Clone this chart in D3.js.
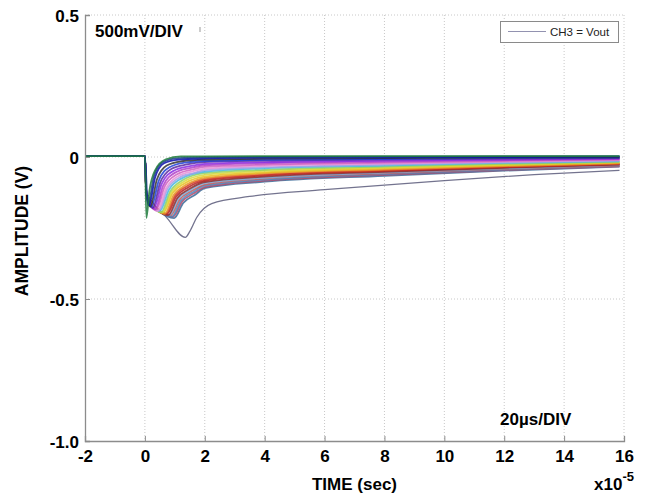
<!DOCTYPE html>
<html>
<head>
<meta charset="utf-8">
<script src="https://cdn.jsdelivr.net/npm/d3@7"></script>
<style>
  html, body { margin: 0; padding: 0; background: #fff; }
  svg { display: block; font-family: "Liberation Sans", Arial, sans-serif; }
</style>
</head>
<body>
<svg id="chart" width="652" height="497"></svg>
<script>
// ---- data ----
const xTicks = [-2, 0, 2, 4, 6, 8, 10, 12, 14, 16];
const xTickLabels = ["-2", "0", "2", "4", "6", "8", "10", "12", "14", "16"];
const yTicks = [0.5, 0, -0.5, -1.0];
const yTickLabels = ["0.5", "0", "-0.5", "-1.0"];
const xLabel = "TIME (sec)";
const yLabel = "AMPLITUDE (V)";
const vScaleText = "500mV/DIV";
const tScaleText = "20\u00b5s/DIV";
const legendText = "CH3 = Vout";

// trace colours, from top of the bundle to the largest excursion
const traceColors = [
  "#1e7b3c", "#1a3a8a", "#0a0ab0", "#333333", "#2040d8", "#5a2aa0",
  "#8a2be2", "#b040c8", "#d060c0", "#e890d8", "#a0a0e8", "#48b8e0",
  "#90d060", "#d8d838", "#e8c020", "#e89028", "#d03a2a", "#b02020",
  "#8a2a2a", "#7aaad8", "#c05a5a", "#4a86c0", "#b04868", "#3a6a98",
  "#5a5a7a"
];
const legendColor = "#9292b0";

// each trace: [time (x1e-5 s), amplitude (V)] points
const traces = [
  [[-2,.003],[0,.003],[0.05,-0.215],[0.15,-0.12],[0.35,-0.045],[0.7,-0.008],[1.2,0.002],[4,0.003],[8,0.003],[12,0.003],[15.85,0.003]],
  [[-2,.003],[0,.003],[0.10,-0.17],[0.3,-0.069],[0.6,-0.018],[1.1,-0.004],[2,-0.001],[4,0.000],[8,0.001],[12,0.002],[15.85,0.002]],
  [[-2,.003],[0,.003],[0.05,-0.13],[0.14,-0.17],[0.34,-0.072],[0.64,-0.022],[1.14,-0.009],[2,-0.005],[4,-0.002],[8,-0.001],[12,0.000],[15.85,0.001]],
  [[-2,.003],[0,.003],[0.05,-0.13],[0.18,-0.175],[0.40,-0.079],[0.73,-0.030],[1.23,-0.015],[2,-0.009],[4,-0.006],[8,-0.004],[12,-0.002],[15.85,-0.001]],
  [[-2,.003],[0,.003],[0.05,-0.13],[0.22,-0.175],[0.46,-0.084],[0.82,-0.036],[1.32,-0.020],[2,-0.014],[4,-0.010],[8,-0.007],[12,-0.004],[15.85,-0.002]],
  [[-2,.003],[0,.003],[0.05,-0.13],[0.26,-0.18],[0.51,-0.090],[0.88,-0.042],[1.41,-0.026],[2,-0.018],[4,-0.013],[8,-0.009],[12,-0.006],[15.85,-0.004]],
  [[-2,.003],[0,.003],[0.05,-0.13],[0.30,-0.18],[0.56,-0.095],[0.95,-0.049],[1.5,-0.032],[2,-0.024],[4,-0.018],[8,-0.013],[12,-0.009],[15.85,-0.006]],
  [[-2,.003],[0,.003],[0.05,-0.13],[0.34,-0.185],[0.61,-0.101],[1.01,-0.055],[1.54,-0.038],[2,-0.029],[4,-0.022],[8,-0.016],[12,-0.011],[15.85,-0.007]],
  [[-2,.003],[0,.003],[0.05,-0.13],[0.38,-0.185],[0.66,-0.104],[1.06,-0.062],[1.58,-0.044],[2,-0.035],[4,-0.027],[8,-0.020],[12,-0.014],[15.85,-0.009]],
  [[-2,.003],[0,.003],[0.05,-0.13],[0.42,-0.19],[0.71,-0.110],[1.12,-0.067],[1.62,-0.050],[2,-0.041],[4,-0.031],[8,-0.023],[12,-0.016],[15.85,-0.011]],
  [[-2,.003],[0,.003],[0.05,-0.13],[0.46,-0.19],[0.75,-0.113],[1.16,-0.072],[1.66,-0.056],[2,-0.046],[4,-0.036],[8,-0.027],[12,-0.019],[15.85,-0.013]],
  [[-2,.003],[0,.003],[0.05,-0.13],[0.50,-0.19],[0.80,-0.116],[1.20,-0.077],[2,-0.052],[4,-0.040],[8,-0.030],[12,-0.021],[15.85,-0.015]],
  [[-2,.003],[0,.003],[0.05,-0.13],[0.54,-0.195],[0.84,-0.122],[1.24,-0.083],[2,-0.057],[4,-0.045],[8,-0.034],[12,-0.024],[15.85,-0.017]],
  [[-2,.003],[0,.003],[0.05,-0.13],[0.58,-0.195],[0.88,-0.125],[1.28,-0.088],[2,-0.063],[4,-0.049],[8,-0.037],[12,-0.027],[15.85,-0.018]],
  [[-2,.003],[0,.003],[0.05,-0.13],[0.62,-0.195],[0.92,-0.128],[1.32,-0.093],[2,-0.069],[4,-0.054],[8,-0.040],[12,-0.029],[15.85,-0.020]],
  [[-2,.003],[0,.003],[0.05,-0.13],[0.66,-0.20],[0.96,-0.134],[1.36,-0.099],[2,-0.074],[4,-0.058],[8,-0.044],[12,-0.032],[15.85,-0.022]],
  [[-2,.003],[0,.003],[0.05,-0.13],[0.70,-0.20],[1.00,-0.137],[1.40,-0.103],[2,-0.079],[4,-0.062],[8,-0.047],[12,-0.034],[15.85,-0.024]],
  [[-2,.003],[0,.003],[0.05,-0.13],[0.74,-0.20],[1.04,-0.140],[1.44,-0.107],[2,-0.083],[4,-0.065],[8,-0.049],[12,-0.036],[15.85,-0.025]],
  [[-2,.003],[0,.003],[0.05,-0.13],[0.78,-0.205],[1.08,-0.145],[1.48,-0.113],[2,-0.088],[4,-0.069],[8,-0.052],[12,-0.038],[15.85,-0.027]],
  [[-2,.003],[0,.003],[0.05,-0.13],[0.82,-0.205],[1.12,-0.147],[1.52,-0.116],[2,-0.092],[4,-0.073],[8,-0.055],[12,-0.040],[15.85,-0.028]],
  [[-2,.003],[0,.003],[0.05,-0.13],[0.86,-0.205],[1.16,-0.150],[1.56,-0.120],[2,-0.097],[4,-0.076],[8,-0.058],[12,-0.042],[15.85,-0.030]],
  [[-2,.003],[0,.003],[0.05,-0.13],[0.90,-0.21],[1.20,-0.154],[1.60,-0.124],[2,-0.101],[4,-0.080],[8,-0.060],[12,-0.044],[15.85,-0.031]],
  [[-2,.003],[0,.003],[0.05,-0.13],[0.94,-0.21],[1.24,-0.157],[1.64,-0.128],[2,-0.106],[4,-0.083],[8,-0.063],[12,-0.046],[15.85,-0.033]],
  [[-2,.003],[0,.003],[0.05,-0.13],[0.98,-0.215],[1.28,-0.162],[1.68,-0.133],[2,-0.110],[4,-0.087],[8,-0.066],[12,-0.048],[15.85,-0.034]],
  [[-2,.003],[0,.003],[0.05,-0.14],[0.7,-0.21],[1.35,-0.283],[1.5,-0.262],[1.73,-0.213],[2.23,-0.164],[3.5,-0.139],[6,-0.115],[10,-0.083],[13,-0.062],[15.85,-0.047]]
];

// ---- drawing ----
const svg = d3.select("#chart");
const plotLeft = 85, plotRight = 624, plotTop = 15, plotBottom = 441;
const x = d3.scaleLinear().domain([-2, 16]).range([plotLeft, plotRight]);
const y = d3.scaleLinear().domain([-1, 0.5]).range([plotBottom, plotTop]);

const axisColor = "#8c8c8c";
const gridColor = "#c8c8c8";

// grid
const grid = svg.append("g");
grid.selectAll("line.vx").data(xTicks.slice(1)).join("line")
  .attr("x1", d => x(d)).attr("x2", d => x(d))
  .attr("y1", plotTop).attr("y2", plotBottom)
  .attr("stroke", gridColor).attr("stroke-width", 1)
  .attr("stroke-dasharray", "1,2");
grid.selectAll("line.hy").data(yTicks.filter(d => d !== -1)).join("line")
  .attr("x1", plotLeft).attr("x2", plotRight)
  .attr("y1", d => y(d)).attr("y2", d => y(d))
  .attr("stroke", gridColor).attr("stroke-width", 1)
  .attr("stroke-dasharray", "1,2");

// traces
const line = d3.line()
  .x(d => x(d[0])).y(d => y(d[1]))
  .curve(d3.curveMonotoneX);
const order = d3.range(traces.length).reverse();
svg.append("g").selectAll("path").data(order).join("path")
  .attr("d", i => line(traces[i]))
  .attr("fill", "none")
  .attr("stroke", i => traceColors[i])
  .attr("stroke-width", i => i === traces.length - 1 ? 1.3 : 1.8)
  .attr("stroke-opacity", 0.85)
  .attr("stroke-linejoin", "round");

// axes
const xAxis = d3.axisBottom(x).tickValues(xTicks).tickSize(-5).tickFormat((d, i) => xTickLabels[i]).tickPadding(9);
const yAxis = d3.axisLeft(y).tickValues(yTicks).tickSize(-5).tickFormat((d, i) => yTickLabels[i]).tickPadding(7);

const gx = svg.append("g").attr("transform", `translate(0,${plotBottom})`).call(xAxis);
const gy = svg.append("g").attr("transform", `translate(${plotLeft},0)`).call(yAxis);
[gx, gy].forEach(g => {
  g.select(".domain").attr("stroke", axisColor).attr("stroke-width", 1.3);
  g.selectAll(".tick line").attr("stroke", axisColor);
  g.selectAll(".tick text").attr("fill", "#000")
    .style("font-family", "'Liberation Sans', Arial, sans-serif")
    .style("font-weight", "bold").style("font-size", "17px");
});
gx.selectAll(".tick text").attr("dy", "0.71em").attr("y", 9);
gy.selectAll(".tick text").attr("x", -6).attr("dy", "0.36em");

// axis titles
svg.append("text")
  .attr("x", (plotLeft + plotRight) / 2).attr("y", 490)
  .attr("text-anchor", "middle")
  .style("font-weight", "bold").style("font-size", "17px")
  .text(xLabel);
svg.append("text")
  .attr("transform", `translate(28,${(plotTop + plotBottom) / 2 + 3}) rotate(-90)`)
  .attr("text-anchor", "middle")
  .style("font-weight", "bold").style("font-size", "17.5px")
  .text(yLabel);

// x10^-5 exponent
const expText = svg.append("text")
  .attr("x", 594).attr("y", 490)
  .style("font-weight", "bold").style("font-size", "17px");
expText.append("tspan").text("x10");
expText.append("tspan").attr("dy", -9).style("font-size", "13px").text("-5");

// annotations
svg.append("text").attr("x", 95).attr("y", 37)
  .style("font-weight", "bold").style("font-size", "17px").text(vScaleText);
svg.append("line").attr("x1", 200).attr("x2", 200).attr("y1", 27).attr("y2", 32)
  .attr("stroke", "#999").attr("stroke-width", 1);
svg.append("text").attr("x", 500).attr("y", 425)
  .style("font-weight", "bold").style("font-size", "17px").text(tScaleText);

// legend
const lg = svg.append("g");
lg.append("rect").attr("x", 500.5).attr("y", 21.5).attr("width", 118).attr("height", 21)
  .attr("fill", "#fff").attr("stroke", "#8a8a8a").attr("stroke-width", 1);
lg.append("line").attr("x1", 508).attr("x2", 546).attr("y1", 31.5).attr("y2", 31.5)
  .attr("stroke", legendColor).attr("stroke-width", 1.2);
lg.append("text").attr("x", 550).attr("y", 36)
  .style("font-size", "11.5px").attr("fill", "#222").text(legendText);
</script>
</body>
</html>
